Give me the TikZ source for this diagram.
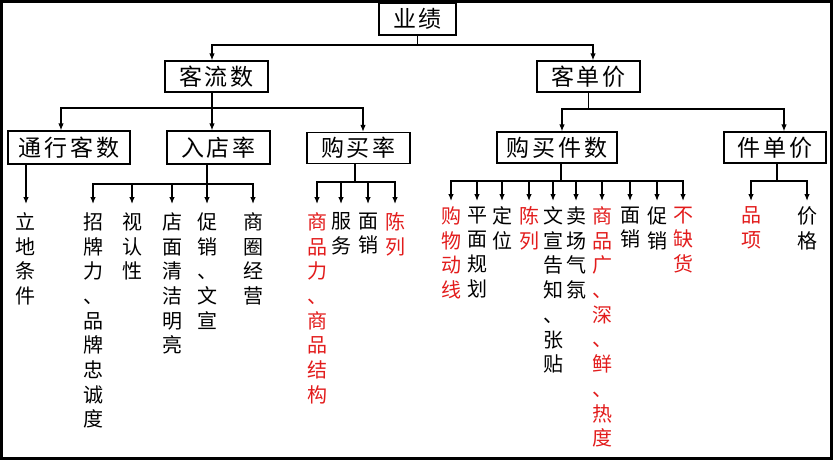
\documentclass[tikz,border=0pt]{standalone}
\usepackage{fontspec}
\newfontfamily\cjk{Noto Sans CJK SC}
\newfontfamily\cjkbox[LetterSpace=12]{Noto Sans CJK SC}
\usetikzlibrary{arrows.meta}
\definecolor{hot}{RGB}{226,28,28}
\tikzset{
  box/.style={draw,line width=1.2pt,inner sep=0pt,minimum height=31pt,font=\fontsize{23}{23}\selectfont\cjkbox},
  leaf/.style={anchor=north,inner sep=0pt,align=center,font=\fontsize{20}{24.7}\selectfont\cjk},
  hotleaf/.style={leaf,text=hot},
}
\begin{document}
\begin{tikzpicture}[x=1pt,y=-1pt,line width=1.2pt,>={Latex[length=7pt,width=5.5pt]}]
\useasboundingbox (0,0) rectangle (834,461);
\draw[line width=3pt] (1.5,1.5) rectangle (831.5,458.5);

\node[box,minimum width=77pt,minimum height=32pt] (perf) at (417.5,19) {业绩};
\node[box,minimum width=103pt] (flow) at (216.5,76.5) {客流数};
\node[box,minimum width=103pt] (unit) at (588.5,76.5) {客单价};
\node[box,minimum width=122pt,minimum height=33pt] (pass) at (69,147.5) {通行客数};
\node[box,minimum width=103pt,minimum height=33pt] (enter) at (218.5,147.5) {入店率};
\node[box,minimum width=103pt] (buy) at (358.5,148) {购买率};
\node[box,minimum width=120pt] (num) at (557,147.5) {购买件数};
\node[box,minimum width=102pt] (price) at (775,147.5) {件单价};

\node[leaf] (lp) at (26,212) {立\\地\\条\\件};
\node[leaf] (e1) at (93,212) {招\\牌\\力\\、\\品\\牌\\忠\\诚\\度};
\node[leaf] (e2) at (132,212) {视\\认\\性};
\node[leaf] (e3) at (172,212) {店\\面\\清\\洁\\明\\亮};
\node[leaf] (e4) at (207,212) {促\\销\\、\\文\\宣};
\node[leaf] (e5) at (253,212) {商\\圈\\经\\营};
\node[hotleaf] (b1) at (317,212) {商\\品\\力\\、\\商\\品\\结\\构};
\node[leaf] (b2) at (341,212) {服\\务};
\node[leaf] (b3) at (368,212) {面\\销};
\node[hotleaf] (b4) at (395,212) {陈\\列};

\node[hotleaf] (n1) at (451,206) {购\\物\\动\\线};
\node[leaf] (n2) at (477,206) {平\\面\\规\\划};
\node[leaf] (n3) at (502,206) {定\\位};
\node[hotleaf] (n4) at (529,206) {陈\\列};
\node[leaf] (n5) at (553,206) {文\\宣\\告\\知\\、\\张\\贴};
\node[leaf] (n6) at (576,206) {卖\\场\\气\\氛};
\node[hotleaf] (n7) at (602,206) {商\\品\\广\\、\\深\\、\\鲜\\、\\热\\度};
\node[leaf] (n8) at (630,206) {面\\销};
\node[leaf] (n9) at (657,206) {促\\销};
\node[hotleaf] (n10) at (683,206) {不\\缺\\货};
\node[hotleaf] (p1) at (751,206) {品\\项};
\node[leaf] (p2) at (807,206) {价\\格};

\coordinate (tb) at (perf.south |- 0,45);
\draw (perf.south) -- (tb);
\draw[->] (tb) -| ([xshift=-4.5pt]flow.north);
\draw[->] (tb) -| ([xshift=4.5pt]unit.north);

\coordinate (fd) at ([xshift=-4.5pt]flow.south);
\coordinate (fb) at (fd |- 0,108);
\draw (fd) -- (fb);
\draw[->] (fb) -| ([xshift=-8pt]pass.north);
\draw[->] (fb) -| ([xshift=-6.5pt]enter.north);
\draw[->] (fb) -| ([xshift=4.5pt]buy.north);

\coordinate (ub) at (unit.south |- 0,109);
\draw (unit.south) -- (ub);
\draw[->] (ub) -| ([xshift=5pt]num.north);
\draw[->] (ub) -| ([xshift=9pt]price.north);

\draw[->,shorten >=8pt] (pass.south -| lp.north) -- (lp.north);

\coordinate (ed) at ([xshift=-11.5pt]enter.south);
\coordinate (eb) at (ed |- 0,184);
\draw (ed) -- (eb);
\foreach \n in {e1,e2,e3,e4,e5}
  \draw[->,shorten >=8pt] (eb) -| (\n.north);

\coordinate (bd) at ([xshift=-3.5pt]buy.south);
\coordinate (bb) at (bd |- 0,182);
\draw (bd) -- (bb);
\foreach \n in {b1,b2,b3,b4}
  \draw[->,shorten >=8pt] (bb) -| (\n.north);

\coordinate (nd) at ([xshift=4pt]num.south);
\coordinate (nb) at (nd |- 0,181);
\draw (nd) -- (nb);
\foreach \n in {n1,n2,n3,n4,n5,n6,n7,n8,n9,n10}
  \draw[->,shorten >=5pt] (nb) -| (\n.north);

\coordinate (pd) at ([xshift=2pt]price.south);
\coordinate (pb) at (pd |- 0,181);
\draw (pd) -- (pb);
\foreach \n in {p1,p2}
  \draw[->,shorten >=5pt] (pb) -| (\n.north);
\end{tikzpicture}
\end{document}
